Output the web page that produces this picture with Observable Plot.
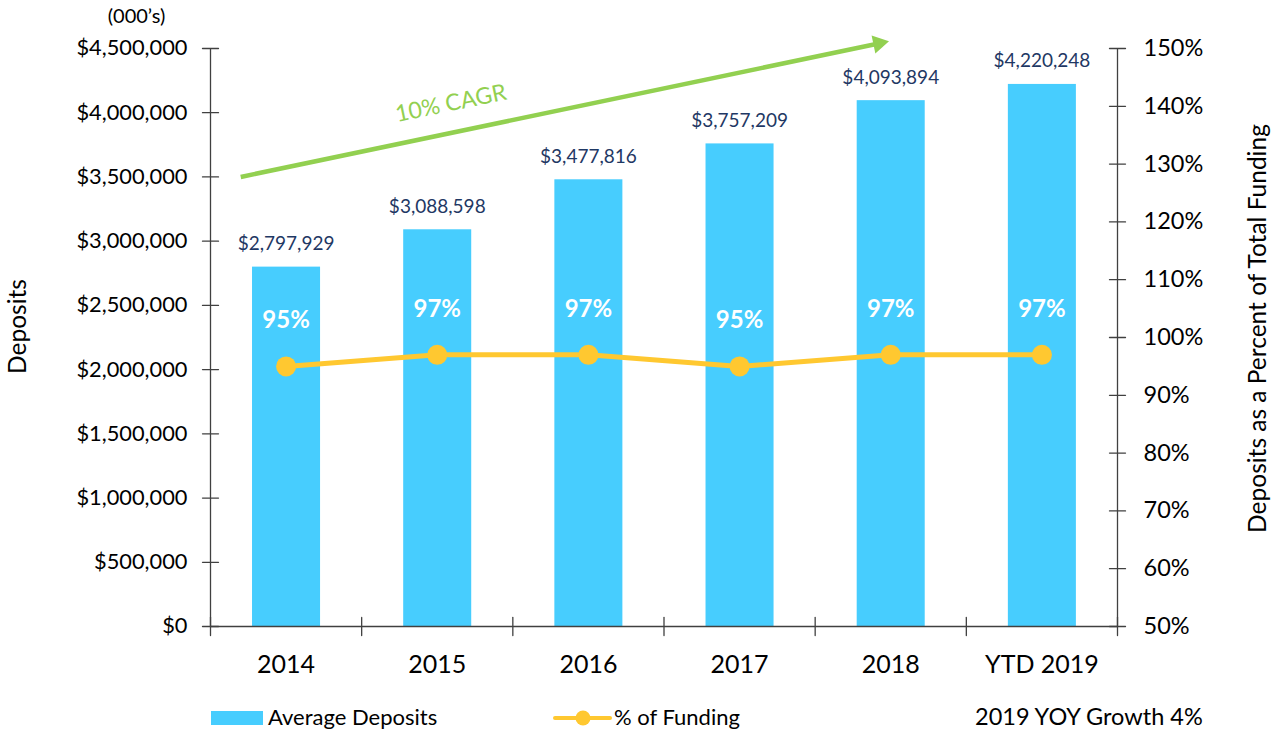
<!DOCTYPE html>
<html>
<head>
<meta charset="utf-8">
<script src="https://cdn.jsdelivr.net/npm/d3@7"></script>
<script src="https://cdn.jsdelivr.net/npm/@observablehq/plot@0.6"></script>
<style>
  html, body { margin: 0; padding: 0; background: #fff; }
  #wrap { width: 1284px; height: 731px; position: relative; overflow: hidden; font-family: Lato, "Open Sans", sans-serif; }
  #legend { position: absolute; left: 0; top: 690px; width: 1284px; height: 41px; }
  .lg { position: absolute; font-size: 22px; color: #000; line-height: 1; }
</style>
</head>
<body>
<div id="wrap">
  <div id="chart"></div>
  <div id="legend">
    <div style="position:absolute; left:211px; top:21px; width:52px; height:14px; background:#47CDFE;"></div>
    <div class="lg" style="left:268px; top:16px;">Average Deposits</div>
    <svg style="position:absolute; left:553px; top:20px;" width="60" height="16">
      <line x1="2" y1="8" x2="57" y2="8" stroke="#FFC830" stroke-width="4" stroke-linecap="round"></line>
      <circle cx="30" cy="8" r="7.5" fill="#FFC830"></circle>
    </svg>
    <div class="lg" style="left:614px; top:16px;">% of Funding</div>
    <div class="lg" style="left:975px; top:15px; font-size:23.5px;">2019 YOY Growth 4%</div>
  </div>
</div>
<script>
// ---- data ----
const categories = ["2014", "2015", "2016", "2017", "2018", "YTD 2019"];
const avgDeposits = [2797929, 3088598, 3477816, 3757209, 4093894, 4220248];
const pctFunding = [95, 97, 97, 95, 97, 97];
const leftTicks = [0, 500000, 1000000, 1500000, 2000000, 2500000, 3000000, 3500000, 4000000, 4500000];
const rightTicks = [50, 60, 70, 80, 90, 100, 110, 120, 130, 140, 150];
const cagrLabel = ["10% CAGR"];
const cagrStart = [0.2, 3500000];
const cagrEnd = [4.42, 4539000];
const cagrLabelAt = [1.59, 4072000];

// ---- helpers ----
const yMax = 4500000;
const pctToY = p => (p - 50) / 100 * yMax;
const yToPct = v => Math.round(v / yMax * 100 + 50);
const money = v => "$" + d3.format(",")(v);
const data = categories.map((c, i) => ({i, cat: c, dep: avgDeposits[i], pct: pctFunding[i]}));

const barColor = "#47CDFE";
const lineColor = "#FFC830";
const green = "#92D050";
const navy = "#1F3864";
const axisColor = "#404040";
const tickShape = {draw(ctx, l) { ctx.moveTo(0, 0); ctx.lineTo(0, -l); }};

const chart = Plot.plot({
  width: 1284,
  height: 690,
  marginLeft: 210,
  marginRight: 167,
  marginTop: 48,
  marginBottom: 64,
  x: {type: "linear", domain: [0, categories.length], axis: null},
  y: {domain: [0, yMax], axis: null},
  style: {fontFamily: "Lato, 'Open Sans', sans-serif", background: "white", overflow: "visible"},
  marks: [
    // bars
    Plot.rectY(data, {x1: d => d.i + 0.278, x2: d => d.i + 0.728, y: "dep", fill: barColor}),
    // axis lines
    Plot.ruleX([0, categories.length], {stroke: axisColor, strokeWidth: 1.3}),
    Plot.ruleY([0], {stroke: axisColor, strokeWidth: 1.3}),
    // crossing ticks
    Plot.vector(leftTicks, {x: 0, y: d => d, length: 16, rotate: 90, anchor: "middle", shape: tickShape, stroke: axisColor, strokeWidth: 1.3}),
    Plot.vector(rightTicks, {x: categories.length, y: d => pctToY(d), length: 16, rotate: 90, anchor: "middle", shape: tickShape, stroke: axisColor, strokeWidth: 1.3}),
    Plot.vector(d3.range(categories.length + 1), {x: d => d, y: 0, length: 18, rotate: 0, anchor: "middle", shape: tickShape, stroke: axisColor, strokeWidth: 1.3}),
    // axes labels
    Plot.axisY(leftTicks, {anchor: "left", tickSize: 0, tickPadding: 23, tickFormat: money, fontSize: 21.8, fill: "#000", label: null}),
    Plot.axisY(rightTicks.map(pctToY), {anchor: "right", tickSize: 0, tickPadding: 26, tickFormat: v => yToPct(v) + "%", fontSize: 23.5, fill: "#000", label: null}),
    Plot.axisX(d3.range(categories.length).map(i => i + 0.5), {anchor: "bottom", tickSize: 0, tickPadding: 29, tickFormat: v => categories[Math.floor(v)], fontSize: 25, fill: "#000", label: null}),
    // axis titles
    Plot.text(["Deposits"], {frameAnchor: "left", textAnchor: "middle", rotate: -90, dx: -192, dy: -11, fontSize: 24.5, fill: "#000"}),
    Plot.text(["Deposits as a Percent of Total Funding"], {frameAnchor: "right", textAnchor: "middle", rotate: -90, dx: 141, dy: -9, fontSize: 24.5, fill: "#000"}),
    Plot.text(["(000\u2019s)"], {frameAnchor: "top-left", textAnchor: "middle", lineAnchor: "middle", dx: -74, dy: -32, fontSize: 20, fill: "#000"}),
    // value labels
    Plot.text(data, {x: d => d.i + 0.5, y: "dep", text: d => money(d.dep), lineAnchor: "bottom", dy: -17, fontSize: 19, fill: navy}),
    // funding line
    Plot.line(data, {x: d => d.i + 0.5, y: d => pctToY(d.pct), stroke: lineColor, strokeWidth: 5}),
    Plot.dot(data, {x: d => d.i + 0.5, y: d => pctToY(d.pct), r: 10, fill: lineColor}),
    Plot.text(data, {x: d => d.i + 0.5, y: d => pctToY(d.pct), text: d => d.pct + "%", dy: -46, fill: "white", fontWeight: "bold", fontSize: 24}),
    // CAGR arrow
    Plot.link([0], {x1: cagrStart[0], y1: cagrStart[1], x2: cagrEnd[0], y2: cagrEnd[1], stroke: green, strokeWidth: 4.5}),
    Plot.dot([0], {x: cagrEnd[0], y: cagrEnd[1], symbol: "triangle", r: 6.8, rotate: 78.2, fill: green, stroke: "none"}),
    Plot.text(cagrLabel, {x: cagrLabelAt[0], y: cagrLabelAt[1], rotate: -11.7, fontSize: 23, fill: green})
  ]
});
document.getElementById("chart").appendChild(chart);
</script>
</body>
</html>
